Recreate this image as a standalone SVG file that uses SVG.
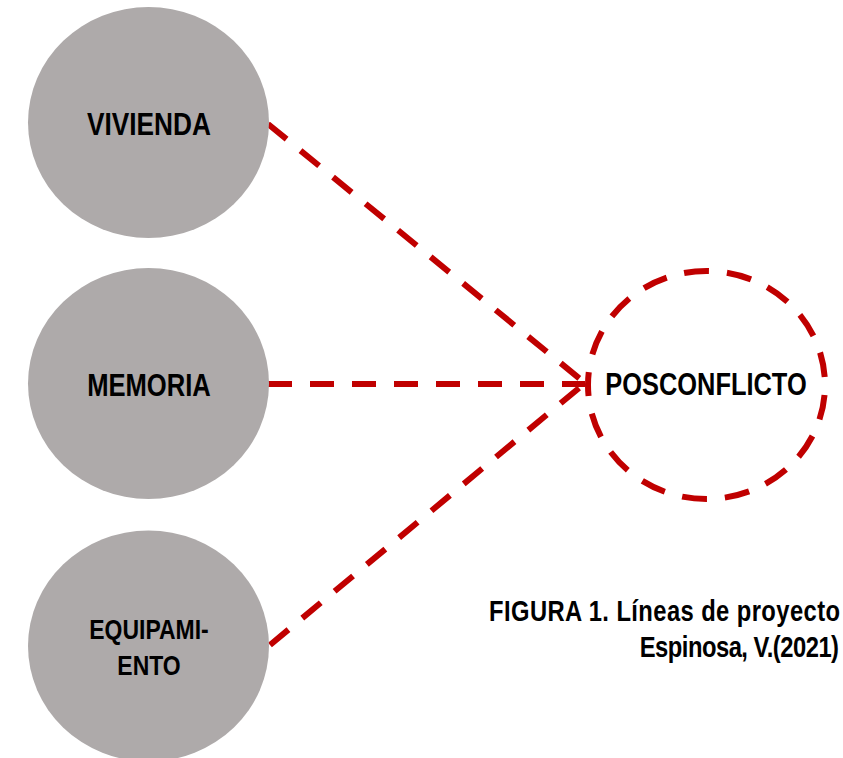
<svg xmlns="http://www.w3.org/2000/svg" width="843" height="758" viewBox="0 0 843 758">
<style>
.node{fill:#AEAAAA;}
.lbl{font-family:"Liberation Sans",Arial,sans-serif;font-weight:bold;fill:#000;text-anchor:middle;}
.cap{font-family:"Liberation Sans",Arial,sans-serif;font-weight:bold;fill:#000;text-anchor:end;font-size:29px;}
.link{stroke:#C00000;stroke-width:6;stroke-dasharray:24 18;fill:none;}
.target{stroke:#C00000;stroke-width:6;stroke-dasharray:25 18;stroke-dashoffset:12;fill:none;}
</style>
<rect width="843" height="758" fill="#FFFFFF"/>
<g id="connectors">
<line class="link" x1="268" y1="124" x2="585" y2="383"/>
<line class="link" x1="268" y1="384" x2="585" y2="384"/>
<line class="link" x1="270" y1="645" x2="585" y2="383"/>
</g>
<g id="vivienda">
<ellipse class="node" cx="148.5" cy="122.5" rx="120.5" ry="115.5"/>
<text class="lbl" transform="translate(149,135) scale(0.82,1)" font-size="32">VIVIENDA</text>
</g>
<g id="memoria">
<ellipse class="node" cx="148.5" cy="383.5" rx="120.5" ry="115.5"/>
<text class="lbl" transform="translate(149,396) scale(0.8,1)" font-size="32">MEMORIA</text>
</g>
<g id="equipamiento">
<ellipse class="node" cx="148.5" cy="646" rx="120.5" ry="115.5"/>
<text class="lbl" transform="translate(149,639) scale(0.82,1)" font-size="28">EQUIPAMI-</text>
<text class="lbl" transform="translate(149,675) scale(0.82,1)" font-size="28">ENTO</text>
</g>
<g id="posconflicto">
<path class="target" d="M588,385 A118.5,114 0 0 1 825,385 A118.5,114 0 0 1 588,385 Z"/>
<text class="lbl" transform="translate(706,395) scale(0.82,1)" font-size="31">POSCONFLICTO</text>
</g>
<g id="caption">
<text class="cap" transform="translate(840,621) scale(0.82,1)" textLength="428" lengthAdjust="spacing">FIGURA 1. Líneas de proyecto</text>
<text class="cap" transform="translate(839,657) scale(0.82,1)" textLength="243" lengthAdjust="spacing">Espinosa, V.(2021)</text>
</g>
</svg>
